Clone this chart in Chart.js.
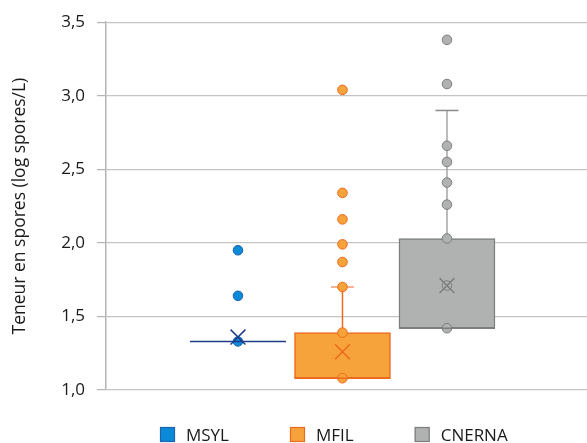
<!DOCTYPE html>
<html>
<head>
<meta charset="utf-8">
<script src="https://cdn.jsdelivr.net/npm/chart.js@4.4.1/dist/chart.umd.min.js"></script>
<style>
  html, body { margin: 0; padding: 0; background: #fff; overflow: hidden; }
  canvas { display: block; }
</style>
</head>
<body>
<canvas id="c" width="587" height="443"></canvas>
<script>
// Spore counts per sampler, log10(spores/L)
const categories = ['MSYL', 'MFIL', 'CNERNA'];
const positions = [1, 2, 3];
const q1 = [1.33, 1.08, 1.42];
const median = [1.33, 1.08, 1.42];
const q3 = [1.33, 1.39, 2.03];
const whiskerHigh = [1.33, 1.70, 2.90];
const means = [1.36, 1.26, 1.71];
const msylPoints = [1.95, 1.64, 1.33];
const mfilPoints = [3.04, 2.34, 2.16, 1.99, 1.87, 1.70, 1.39, 1.08];
const cnernaPoints = [3.38, 3.08, 2.66, 2.55, 2.41, 2.26, 2.03, 1.71, 1.42];
const yTicks = ['1,0', '1,5', '2,0', '2,5', '3,0', '3,5'];
const yTitle = 'Teneur en spores (log spores/L)';

const pointSets = [msylPoints, mfilPoints, cnernaPoints];
const fills = ['#0b8ad8', '#f7a33c', '#b0b2b2'];
const borders = ['#1b62b0', '#ec6a1c', '#7d7f7f'];
const lineColors = ['#1d3d8a', '#ec6a1c', '#a3a5a5'];
const capColors = ['#1d3d8a', '#f59b6e', '#8a8a8a'];
const meanColors = ['#1d3d8a', '#ec6a1c', '#7d7f7f'];
const FONT = '"Open Sans", "DejaVu Sans", sans-serif';
const BOX_W = 96;

const datasets = [];
categories.forEach((name, i) => {
  datasets.push({
    type: 'bar', label: name,
    data: [{ x: positions[i], y: [q1[i], q3[i]] }],
    backgroundColor: fills[i], borderColor: borders[i],
    borderWidth: 1.5, borderSkipped: false,
    barThickness: BOX_W, grouped: false, order: 3
  });
});
categories.forEach((name, i) => {
  datasets.push({
    type: 'scatter', label: name + ' points',
    data: pointSets[i].map(v => ({ x: positions[i], y: v })),
    pointStyle: 'circle', pointRadius: 4.8,
    backgroundColor: fills[i], borderColor: borders[i], borderWidth: 1,
    order: 2
  });
});
categories.forEach((name, i) => {
  datasets.push({
    type: 'scatter', label: name + ' moyenne',
    data: [{ x: positions[i], y: means[i] }],
    pointStyle: 'crossRot', pointRadius: 10.5,
    borderColor: meanColors[i], borderWidth: 1.5,
    order: 1
  });
});

// Whiskers, caps and median lines of the box plots
const boxExtras = {
  id: 'boxExtras',
  beforeDatasetsDraw(chart) {
    const { ctx, scales: { x, y } } = chart;
    ctx.save();
    categories.forEach((_, i) => {
      if (whiskerHigh[i] <= q3[i]) return;
      const px = x.getPixelForValue(positions[i]);
      const yTop = y.getPixelForValue(whiskerHigh[i]);
      ctx.strokeStyle = lineColors[i];
      ctx.lineWidth = 1.5;
      ctx.beginPath();
      ctx.moveTo(px, y.getPixelForValue(q3[i]));
      ctx.lineTo(px, yTop);
      ctx.stroke();
      ctx.strokeStyle = capColors[i];
      ctx.beginPath();
      ctx.moveTo(px - 11.5, yTop);
      ctx.lineTo(px + 11.5, yTop);
      ctx.stroke();
    });
    ctx.restore();
  },
  afterDatasetsDraw(chart) {
    const { ctx, scales: { x, y } } = chart;
    ctx.save();
    categories.forEach((_, i) => {
      const px = x.getPixelForValue(positions[i]);
      const py = y.getPixelForValue(median[i]);
      ctx.strokeStyle = i === 0 ? lineColors[i] : borders[i];
      ctx.lineWidth = 1.5;
      ctx.beginPath();
      ctx.moveTo(px - BOX_W / 2, py);
      ctx.lineTo(px + BOX_W / 2, py);
      ctx.stroke();
    });
    ctx.restore();
  }
};

// Legend row under the plot
const bottomLegend = {
  id: 'bottomLegend',
  afterDraw(chart) {
    const { ctx } = chart;
    ctx.save();
    ctx.font = '17px ' + FONT;
    ctx.textBaseline = 'middle';
    ctx.textAlign = 'left';
    let lx = 160;
    const top = 427, size = 15;
    categories.forEach((name, i) => {
      ctx.fillStyle = fills[i];
      ctx.fillRect(lx, top, size, size);
      ctx.strokeStyle = borders[i];
      ctx.lineWidth = 1.2;
      ctx.strokeRect(lx + 0.5, top + 0.5, size - 1, size - 1);
      ctx.fillStyle = '#1a1a1a';
      ctx.fillText(name, lx + 26, top + 9);
      lx += 26 + ctx.measureText(name).width + 61;
    });
    ctx.restore();
  }
};

new Chart(document.getElementById('c'), {
  type: 'bar',
  data: { datasets },
  options: {
    responsive: false,
    animation: false,
    events: [],
    devicePixelRatio: 1,
    layout: { autoPadding: false, padding: { top: 20, right: 0, bottom: 53, left: 0 } },
    plugins: { legend: { display: false }, tooltip: { enabled: false } },
    scales: {
      x: { type: 'linear', min: -0.263, max: 4.34, display: false, offset: false },
      y: {
        min: 1, max: 3.5,
        afterFit(scale) { scale.width = 106; },
        ticks: {
          stepSize: 0.5, padding: 12, color: '#1a1a1a',
          font: { family: FONT, size: 17 },
          callback: v => yTicks[Math.round((v - 1) / 0.5)]
        },
        grid: { color: '#c4c4c4', lineWidth: 1.2, tickLength: 9, tickColor: '#b4b4b4' },
        border: { color: '#b4b4b4', width: 1.5 },
        title: {
          display: true, text: yTitle, color: '#1a1a1a',
          font: { family: FONT, size: 17.5 },
          padding: { top: 10, bottom: 0 }
        }
      }
    }
  },
  plugins: [boxExtras, bottomLegend]
});
</script>
</body>
</html>
